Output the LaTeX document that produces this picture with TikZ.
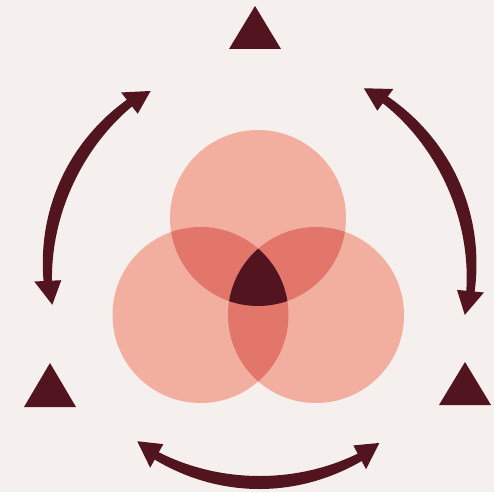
\documentclass[tikz,border=0pt]{standalone}
\usetikzlibrary{arrows.meta}
\definecolor{bg}{RGB}{245,240,237}
\definecolor{maroon}{RGB}{82,20,30}
\definecolor{salmon}{RGB}{242,175,160}
\definecolor{overlap}{RGB}{226,118,106}
\newcommand\taperarc[2]{%
  \pgfmathsetmacro\sgn{sign(#2-#1)}%
  \pgfmathsetmacro\aa{#1+\sgn*5}%
  \pgfmathsetmacro\bb{#2-\sgn*5}%
  \pgfmathsetmacro\ha{#1+\sgn*6.6}%
  \pgfmathsetmacro\hb{#2-\sgn*6.6}%
  \fill[maroon]
    plot[domain=\aa:\bb, samples=70, variable=\t]
      ({\cx+(\R+4+2.5*sin(180*(\t-\aa)/(\bb-\aa)))*cos(\t)},
       {\cy+(\R+4+2.5*sin(180*(\t-\aa)/(\bb-\aa)))*sin(\t)})
    -- plot[domain=\bb:\aa, samples=70, variable=\t]
      ({\cx+(\R-4-2.5*sin(180*(\t-\aa)/(\bb-\aa)))*cos(\t)},
       {\cy+(\R-4-2.5*sin(180*(\t-\aa)/(\bb-\aa)))*sin(\t)})
    -- cycle;
  \fill[maroon] ([shift={(#1:\R-2)}]C) -- ([shift={(\ha:\R+13.5)}]C)
    -- ([shift={(\ha:\R-13.5)}]C) -- cycle;
  \fill[maroon] ([shift={(#2:\R-2)}]C) -- ([shift={(\hb:\R+13.5)}]C)
    -- ([shift={(\hb:\R-13.5)}]C) -- cycle;
}
\begin{document}
\begin{tikzpicture}[x=1pt,y=-1pt, tri/.style={fill=maroon}]
\fill[bg] (0,0) rectangle (494,492);
\useasboundingbox (0,0) rectangle (494,492);
% venn circles
\coordinate (T) at (258,218);
\coordinate (L) at (200.5,315);
\coordinate (R) at (316,315);
\def\rr{88}
\fill[salmon] (T) circle[radius=\rr];
\fill[salmon] (L) circle[radius=\rr];
\fill[salmon] (R) circle[radius=\rr];
\begin{scope}
  \clip (T) circle[radius=\rr];
  \fill[overlap] (L) circle[radius=\rr];
  \fill[overlap] (R) circle[radius=\rr];
\end{scope}
\begin{scope}
  \clip (L) circle[radius=\rr];
  \fill[overlap] (R) circle[radius=\rr];
\end{scope}
\begin{scope}
  \clip (T) circle[radius=\rr];
  \clip (L) circle[radius=\rr];
  \fill[maroon] (R) circle[radius=\rr];
\end{scope}
% triangles
\fill[tri] (255,6) -- (229,49) -- (281,49) -- cycle;
\fill[tri] (50,363) -- (24,407) -- (76,407) -- cycle;
\fill[tri] (465,362) -- (439,405) -- (491,405) -- cycle;
% arc arrows
\def\cx{259.5}\def\cy{270.5}\def\R{212}
\coordinate (C) at (\cx,\cy);
\taperarc{-121.25}{-189.4}
\taperarc{-60.2}{12.2}
\taperarc{125.6}{55.2}
\end{tikzpicture}
\end{document}
